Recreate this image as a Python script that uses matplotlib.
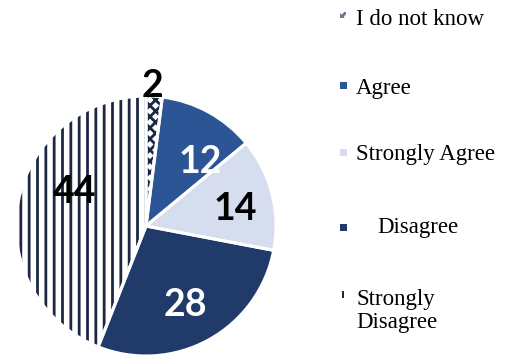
import matplotlib.pyplot as plt
from matplotlib.patches import Rectangle

# survey answers, clockwise from the top
categories = ["I do not know", "Agree", "Strongly Agree", "Disagree", "Strongly Disagree"]
values = [2, 12, 14, 28, 44]
legend_labels = ["I do not know", "Agree", "Strongly Agree", "Disagree", "Strongly\nDisagree"]

fills = ["white", "#2c5595", "#d6ddef", "#203a69", "white"]
hatches = ["xxx", None, None, None, "||"]
hatch_col = "#1c2742"

# where the value labels sit (data units of the pie axes)
label_pos = [(0.05, 1.08), (0.42, 0.49), (0.69, 0.13), (0.30, -0.61), (-0.55, 0.26)]
label_col = ["black", "white", "black", "white", "black"]

plt.rcParams["hatch.linewidth"] = 2.0

fig = plt.figure(figsize=(5.05, 3.6), dpi=100)
ax = fig.add_axes([16 / 505, 4 / 360, 260 / 505, 260 / 360])

wedges, _ = ax.pie(values, startangle=90, counterclock=False, colors=fills,
                   wedgeprops=dict(linewidth=0))
for w, h in zip(wedges, hatches):
    if h:
        w.set_hatch(h)
        w.set_edgecolor(hatch_col)
        w.set_linewidth(0)

# white separators between slices
ax.pie(values, startangle=90, counterclock=False,
       wedgeprops=dict(facecolor="none", edgecolor="white", linewidth=2.2))

for v, (x, y), c in zip(values, label_pos, label_col):
    ax.text(x, y, str(v), ha="center", va="center", color=c,
            fontsize=27, fontweight="bold", family="Lato")

ax.set_xlim(-1, 1)
ax.set_ylim(-1, 1)
ax.set_aspect("equal")
ax.axis("off")

# legend drawn by hand: marker boxes and serif text
W, H = 505, 360
text_x = [356, 356, 356, 377, 356]
text_y = [25, 94, 160, 233, 328]
mark_y = [15, 86, 153, 228, 295]
for i, lab in enumerate(legend_labels):
    if i == 4:
        box = Rectangle((342 / W, 1 - (mark_y[i] + 3) / H), 2 / W, 7 / H,
                        transform=fig.transFigure, facecolor=hatch_col, lw=0)
    elif i == 0:
        box = Rectangle((340 / W, 1 - (mark_y[i] + 3) / H), 6 / W, 6 / H,
                        transform=fig.transFigure, facecolor="white",
                        edgecolor="#6b7894", hatch="xxxx", lw=0)
    else:
        box = Rectangle((340 / W, 1 - (mark_y[i] + 3) / H), 7 / W, 7 / H,
                        transform=fig.transFigure, facecolor=fills[i], lw=0)
    fig.patches.append(box)
    fig.text(text_x[i] / W, 1 - text_y[i] / H, lab, ha="left", va="baseline",
             fontsize=16.5, family="Liberation Serif", linespacing=1.1)

fig.savefig("out.png", dpi=100, facecolor="white")
